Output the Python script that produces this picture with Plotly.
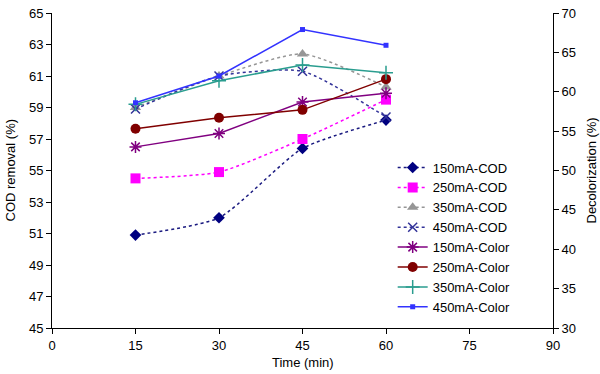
import plotly.graph_objects as go

time = [15, 30, 45, 60]

cod_150 = [50.9, 52.0, 56.4, 58.2]
cod_250 = [54.5, 54.9, 57.0, 59.5]
cod_350 = [59.0, 61.0, 62.4, 60.3]
cod_450 = [58.9, 61.0, 61.3, 58.4]

color_150 = [53.0, 54.7, 58.7, 59.8]
color_250 = [55.3, 56.7, 57.7, 61.6]
color_350 = [58.4, 61.4, 63.4, 62.4]
color_450 = [58.6, 62.0, 67.9, 65.9]

x_ticks = [0, 15, 30, 45, 60, 75, 90]
cod_ticks = [45, 47, 49, 51, 53, 55, 57, 59, 61, 63, 65]
color_ticks = [30, 35, 40, 45, 50, 55, 60, 65, 70]

FONT = "Liberation Sans, Arial, sans-serif"

fig = go.Figure()

cod_specs = [
    ("150mA-COD", cod_150, "#000080", "#1a1a80", "diamond", 9),
    ("250mA-COD", cod_250, "#FF00FF", "#FF00FF", "square", 10),
    ("350mA-COD", cod_350, "#969696", "#969696", "triangle-up", 10),
    ("450mA-COD", cod_450, "#333399", "#333399", "x-thin-open", 9),
]
for name, vals, mcol, lcol, sym, size in cod_specs:
    marker = dict(symbol=sym, size=size, color=mcol)
    if sym.endswith("open"):
        marker["line"] = dict(color=mcol, width=1.5)
    fig.add_trace(go.Scatter(
        x=time, y=vals, name=name, mode="lines+markers",
        line=dict(color=lcol, width=1.5, dash="dot", shape="spline", smoothing=0.6),
        marker=marker, yaxis="y",
    ))

color_specs = [
    ("150mA-Color", color_150, "#800080", "asterisk-open", 10),
    ("250mA-Color", color_250, "#800000", "circle", 10),
    ("350mA-Color", color_350, "#2a9d8f", "cross-thin-open", 10),
    ("450mA-Color", color_450, "#3333FF", "square", 5),
]
for name, vals, col, sym, size in color_specs:
    marker = dict(symbol=sym, size=size, color=col)
    if sym.endswith("open"):
        marker["line"] = dict(color=col, width=1.5)
    fig.add_trace(go.Scatter(
        x=time, y=vals, name=name, mode="lines+markers",
        line=dict(color=col, width=1.5),
        marker=marker, yaxis="y2",
    ))

axis_common = dict(
    showgrid=False, zeroline=False, showline=True, linecolor="black", linewidth=1,
    ticks="outside", ticklen=5, tickcolor="black", ticklabeloverflow="allow",
    tickfont=dict(family=FONT, size=13, color="black"),
)

fig.update_layout(
    width=600, height=374,
    margin=dict(l=52, r=47, t=6, b=46),
    paper_bgcolor="white", plot_bgcolor="white",
    font=dict(family=FONT, size=13, color="black"),
    xaxis=dict(range=[0, 90], tickvals=x_ticks, **axis_common),
    yaxis=dict(range=[45, 65], tickvals=cod_ticks, **axis_common),
    yaxis2=dict(range=[30, 70], tickvals=color_ticks, overlaying="y", side="right",
                **axis_common),
    legend=dict(x=0.68, y=0.557, xanchor="left", yanchor="top",
                bgcolor="rgba(255,255,255,0)", font=dict(family=FONT, size=13),
                tracegroupgap=0, itemwidth=30),
    showlegend=True,
    annotations=[
        dict(text="Time (min)", xref="paper", yref="paper", x=0.5, y=0, yshift=-25,
             xanchor="center", yanchor="top", showarrow=False,
             font=dict(family=FONT, size=13)),
        dict(text="COD removal (%)", xref="paper", yref="paper", x=0, y=0.5, xshift=-42,
             xanchor="center", yanchor="middle", textangle=-90, showarrow=False,
             font=dict(family=FONT, size=13)),
        dict(text="Decolorization (%)", xref="paper", yref="paper", x=1, y=0.5, xshift=38,
             xanchor="center", yanchor="middle", textangle=-90, showarrow=False,
             font=dict(family=FONT, size=13)),
    ],
)

fig.write_html("out.html", config={"displayModeBar": False},
               post_script="document.body.style.margin='0';")
